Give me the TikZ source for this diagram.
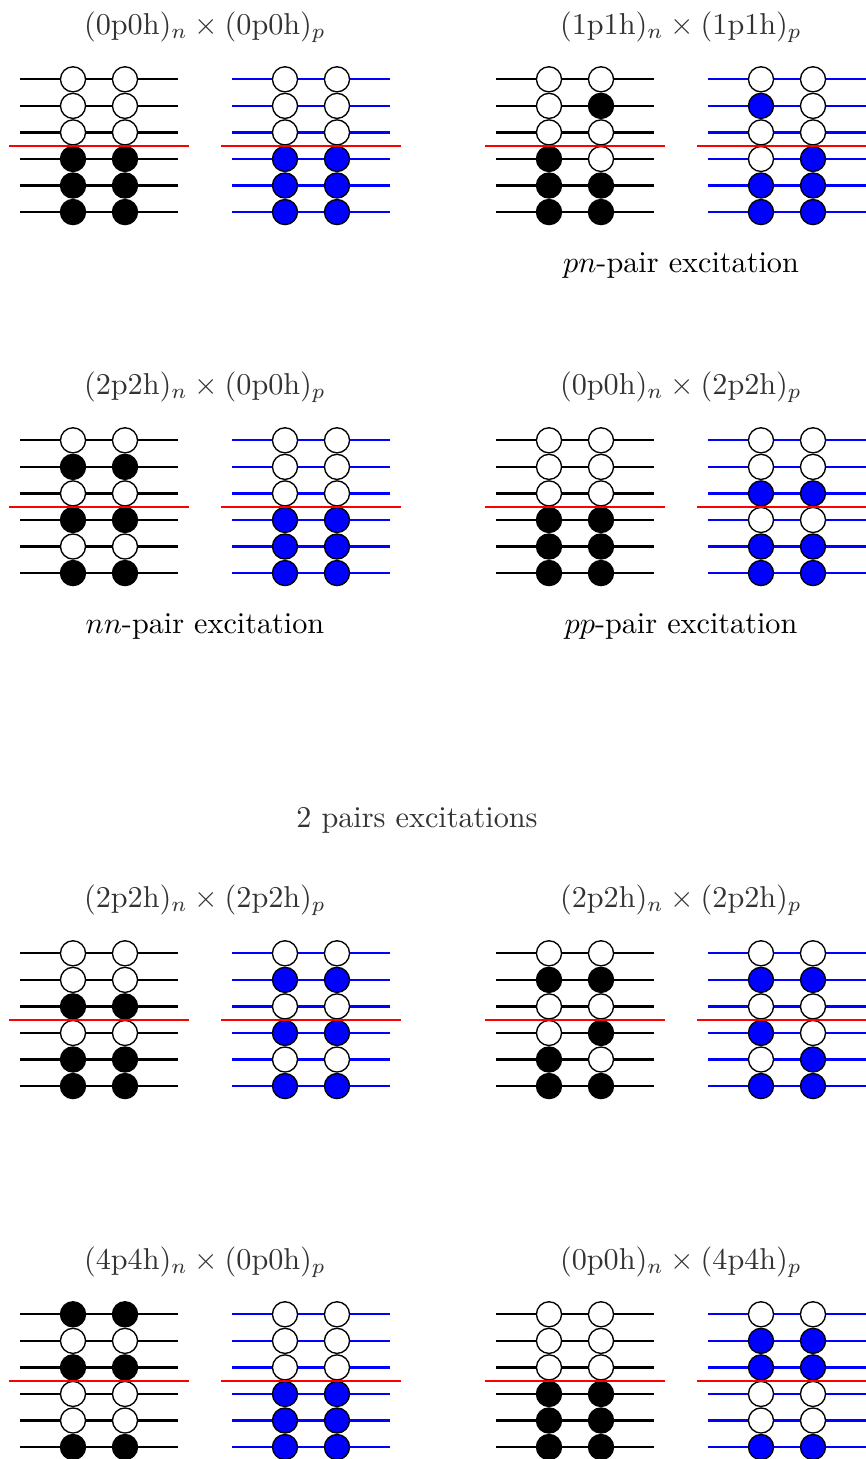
\documentclass[tikz,border=0pt]{standalone}
\usetikzlibrary{positioning}

\tikzset{
	level/.style={line width=0.75pt},
	fermi/.style={red, line width=0.75pt},
	orb/.style={circle, draw=black, line width=0.45pt, minimum size=8.3pt, inner sep=0pt},
	caption/.style={text=black!80},
}

% title of a panel
\newcommand{\conf}[2]{$(#1\mathrm{p}#1\mathrm{h})_n \times (#2\mathrm{p}#2\mathrm{h})_p$}

% #1 name, #2 x, #3 y, #4-#7 fills of the four columns (top to bottom)
\newcommand{\panel}[7]{
	\foreach \k in {1,...,6}{
		\coordinate (#1-n\k-a) at (#2+20,#3+52.75+\k*26.55);
		\coordinate (#1-n\k-b) at (#2+178,#3+52.75+\k*26.55);
		\coordinate (#1-p\k-a) at (#2+232,#3+52.75+\k*26.55);
		\coordinate (#1-p\k-b) at (#2+390,#3+52.75+\k*26.55);
		\draw[level] (#1-n\k-a) -- (#1-n\k-b);
		\draw[level, blue] (#1-p\k-a) -- (#1-p\k-b);
	}
	\foreach \c [count=\i] in {#4} \node[orb, fill=\c] (#1-nl-\i) at (#2+73,#3+52.75+\i*26.55) {};
	\foreach \c [count=\i] in {#5} \node[orb, fill=\c] (#1-nr-\i) at (#2+125,#3+52.75+\i*26.55) {};
	\foreach \c [count=\i] in {#6} \node[orb, fill=\c] (#1-pl-\i) at (#2+285,#3+52.75+\i*26.55) {};
	\foreach \c [count=\i] in {#7} \node[orb, fill=\c] (#1-pr-\i) at (#2+337,#3+52.75+\i*26.55) {};
	\coordinate (#1-fn-a) at (#2+9,#3+145.7);
	\coordinate (#1-fn-b) at (#2+189,#3+145.7);
	\coordinate (#1-fp-a) at (#2+221,#3+145.7);
	\coordinate (#1-fp-b) at (#2+401,#3+145.7);
	\draw[fermi] (#1-fn-a) -- (#1-fn-b);
	\draw[fermi] (#1-fp-a) -- (#1-fp-b);
}

\begin{document}
\begin{tikzpicture}[x=0.331pt, y=-0.331pt]
	\useasboundingbox (0,0) rectangle (866,1459);

	% one pair
	\node[caption] (gs-t) at (205,27) {\conf{0}{0}};
	\panel{gs}{0}{0}{white,white,white,black,black,black}{white,white,white,black,black,black}{white,white,white,blue,blue,blue}{white,white,white,blue,blue,blue}

	\node[caption] (pn-t) at (681,27) {\conf{1}{1}};
	\panel{pn}{476}{0}{white,white,white,black,black,black}{white,black,white,white,black,black}{white,blue,white,white,blue,blue}{white,white,white,blue,blue,blue}
	\node (pn-l) at (681,265) {$pn$-pair excitation};

	\node[caption] (nn-t) at (205,387) {\conf{2}{0}};
	\panel{nn}{0}{361}{white,black,white,black,white,black}{white,black,white,black,white,black}{white,white,white,blue,blue,blue}{white,white,white,blue,blue,blue}
	\node (nn-l) at (205,626) {$nn$-pair excitation};

	\node[caption] (pp-t) at (681,387) {\conf{0}{2}};
	\panel{pp}{476}{361}{white,white,white,black,black,black}{white,white,white,black,black,black}{white,white,blue,white,blue,blue}{white,white,blue,white,blue,blue}
	\node (pp-l) at (681,626) {$pp$-pair excitation};

	% two pairs
	\node[caption] (two) at (417,820) {2 pairs excitations};

	\node[caption] (nnpp-t) at (205,900) {\conf{2}{2}};
	\panel{nnpp}{0}{874}{white,white,black,white,black,black}{white,white,black,white,black,black}{white,blue,white,blue,white,blue}{white,blue,white,blue,white,blue}

	\node[caption] (pnpn-t) at (681,900) {\conf{2}{2}};
	\panel{pnpn}{476}{874}{white,black,white,white,black,black}{white,black,white,black,white,black}{white,blue,white,blue,white,blue}{white,blue,white,white,blue,blue}

	\node[caption] (nnnn-t) at (205,1262) {\conf{4}{0}};
	\panel{nnnn}{0}{1235}{black,white,black,white,white,black}{black,white,black,white,white,black}{white,white,white,blue,blue,blue}{white,white,white,blue,blue,blue}

	\node[caption] (pppp-t) at (681,1262) {\conf{0}{4}};
	\panel{pppp}{476}{1235}{white,white,white,black,black,black}{white,white,white,black,black,black}{white,blue,blue,white,white,blue}{white,blue,blue,white,white,blue}
\end{tikzpicture}
\end{document}
